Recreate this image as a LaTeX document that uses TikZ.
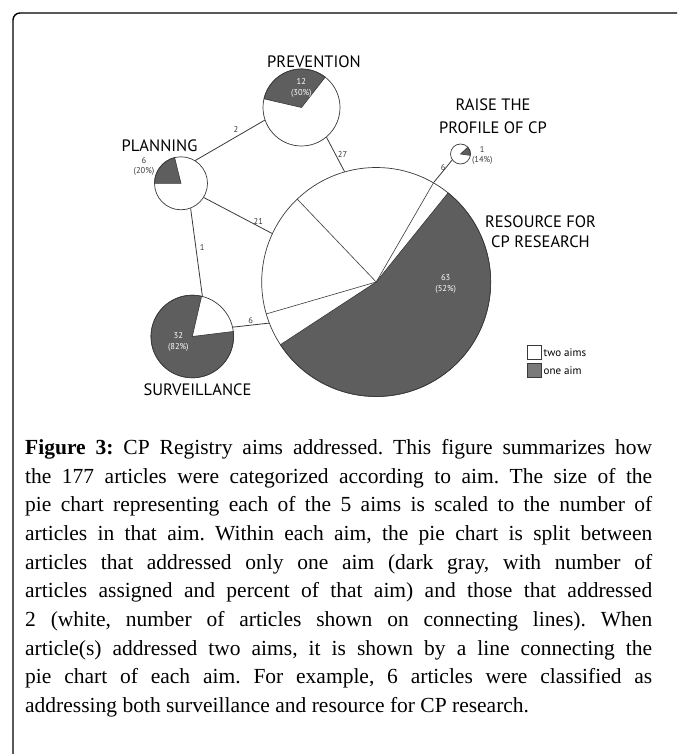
\documentclass[tikz,border=0pt]{standalone}
\usepackage{fontspec}
\setmainfont{Liberation Serif}
\newfontfamily\lblfont{PT Sans}
\definecolor{darkpie}{HTML}{5E5E5E}
\definecolor{legdark}{HTML}{7A7A7A}
\definecolor{linecol}{HTML}{3A3A3A}
\begin{document}
\begin{tikzpicture}[x=1pt,y=1pt,
  pie/.style={circle, draw=linecol, line width=0.7pt, inner sep=0pt, minimum size=#1},
  slice/.style={fill=darkpie, draw=linecol, line width=0.6pt},
  radial/.style={draw=linecol, line width=0.6pt},
  conn/.style={draw=linecol, line width=0.8pt},
  aimlabel/.style={font=\lblfont\fontsize{16.5}{21}\selectfont, align=center, inner sep=0pt},
  numw/.style={font=\lblfont\fontsize{8.5}{10.5}\selectfont, text=white, align=center, inner sep=0pt},
  numd/.style={font=\lblfont\fontsize{8.5}{10.5}\selectfont, text=linecol, align=center, inner sep=0pt},
  edgelbl/.style={font=\lblfont\fontsize{8.5}{10}\selectfont, text=linecol, inner sep=0pt},
  legbox/.style={draw=linecol, line width=0.6pt, minimum width=14.4pt, minimum height=13.6pt, inner sep=0pt},
  legtext/.style={font=\lblfont\fontsize{11}{13}\selectfont, anchor=west, inner sep=0pt, xshift=1.5pt}
]
\useasboundingbox (0,0) rectangle (677,-754);
\fill[white] (0,0) rectangle (677,-754);
\draw[line width=1.4pt, rounded corners=7pt] (13,-754) -- (13,-13) -- (677,-13);

% centres
\coordinate (cPrev) at (301.5,-107.5);
\coordinate (cPlan) at (181,-183.3);
\coordinate (cSurv) at (192.3,-336.5);
\coordinate (cRes) at (376.2,-282);
\coordinate (cRai) at (460.5,-154);

% one-aim slices
\filldraw[slice] (cPrev) -- ++(52:38.5) arc[start angle=52, end angle=167, radius=38.5] -- cycle;
\filldraw[slice] (cPlan) -- ++(104:26.5) arc[start angle=104, end angle=180, radius=26.5] -- cycle;
\filldraw[slice] (cSurv) -- ++(77:41.3) arc[start angle=77, end angle=367, radius=41.3] -- cycle;
\filldraw[slice] (cRes) -- ++(213.2:114.5) arc[start angle=213.2, end angle=411.1, radius=114.5] -- cycle;
\filldraw[slice] (cRai) -- ++(-8:10) arc[start angle=-8, end angle=43, radius=10] -- cycle;
\draw[radial] (cRes) -- ++(60:114.5);
\draw[radial] (cRes) -- ++(133.6:114.5);
\draw[radial] (cRes) -- ++(196.2:114.5);

% pies
\node[pie=77pt] (prev) at (cPrev) {};
\node[pie=53pt] (plan) at (cPlan) {};
\node[pie=82.6pt] (surv) at (cSurv) {};
\node[pie=229pt] (res) at (cRes) {};
\node[pie=20pt] (rai) at (cRai) {};

% connectors
\draw[conn] (plan.58) -- (prev.199.5);
\draw[conn] (prev.310) -- (res.106.3);
\draw[conn] (plan.328.7) -- (res.155.5);
\draw[conn] (plan.291) -- (surv.76);
\draw[conn] (surv.13) -- (res.201.3);
\draw[conn] (rai.216) -- (res.60);

% connector labels
\node[edgelbl] (l2) at (236,-129.3) {2};
\node[edgelbl] (l27) at (342.5,-154.3) {27};
\node[edgelbl] (l21) at (258.3,-221) {21};
\node[edgelbl] (l1) at (202.3,-247.3) {1};
\node[edgelbl] (l6a) at (250.7,-321) {6};
\node[edgelbl] (l6b) at (443.3,-167.7) {6};

% pie numbers
\node[numw] (nPrev) at (301.3,-88) {12\\(30\%)};
\node[numd] (nPlan) at (144,-166.5) {6\\(20\%)};
\node[numw] (nSurv) at (178.3,-341.8) {32\\(82\%)};
\node[numw] (nRes) at (445.7,-283.8) {63\\(52\%)};
\node[numd] (nRai) at (482.3,-155.3) {1\\(14\%)};

% aim labels
\node[aimlabel] (tPrev) at (314,-61.7) {PREVENTION};
\node[aimlabel] (tPlan) at (159.5,-146) {PLANNING};
\node[aimlabel] (tSurv) at (197.5,-390) {SURVEILLANCE};
\node[aimlabel, font=\lblfont\fontsize{16.5}{22.3}\selectfont] (tRai) at (493,-116.3) {RAISE THE\\PROFILE OF CP};
\node[aimlabel, font=\lblfont\fontsize{16.5}{20}\selectfont] (tRes) at (540.5,-231.7) {RESOURCE FOR\\CP RESEARCH};

% legend
\node[legbox, fill=white] (legw) at (534.5,-352.5) {};
\node[legbox, fill=legdark] (legd) at (534.5,-370.3) {};
\node[legtext] (legwt) at (legw.east) {two aims};
\node[legtext] (legdt) at (legd.east) {one aim};

% caption
\node[anchor=north west, text width=627pt, inner sep=0pt, align=justify,
      font=\fontsize{21.5}{28.7}\selectfont\frenchspacing] (cap) at (25,-439) {\noindent
\textbf{Figure 3:} CP Registry aims addressed. This figure summarizes how\linebreak
the 177 articles were categorized according to aim. The size of the\linebreak
pie chart representing each of the 5 aims is scaled to the number of\linebreak
articles in that aim. Within each aim, the pie chart is split between\linebreak
articles that addressed only one aim (dark gray, with number of\linebreak
articles assigned and percent of that aim) and those that addressed\linebreak
2 (white, number of articles shown on connecting lines). When\linebreak
article(s) addressed two aims, it is shown by a line connecting the\linebreak
pie chart of each aim. For example, 6 articles were classified as\linebreak
addressing both surveillance and resource for CP research.};
\end{tikzpicture}
\end{document}
